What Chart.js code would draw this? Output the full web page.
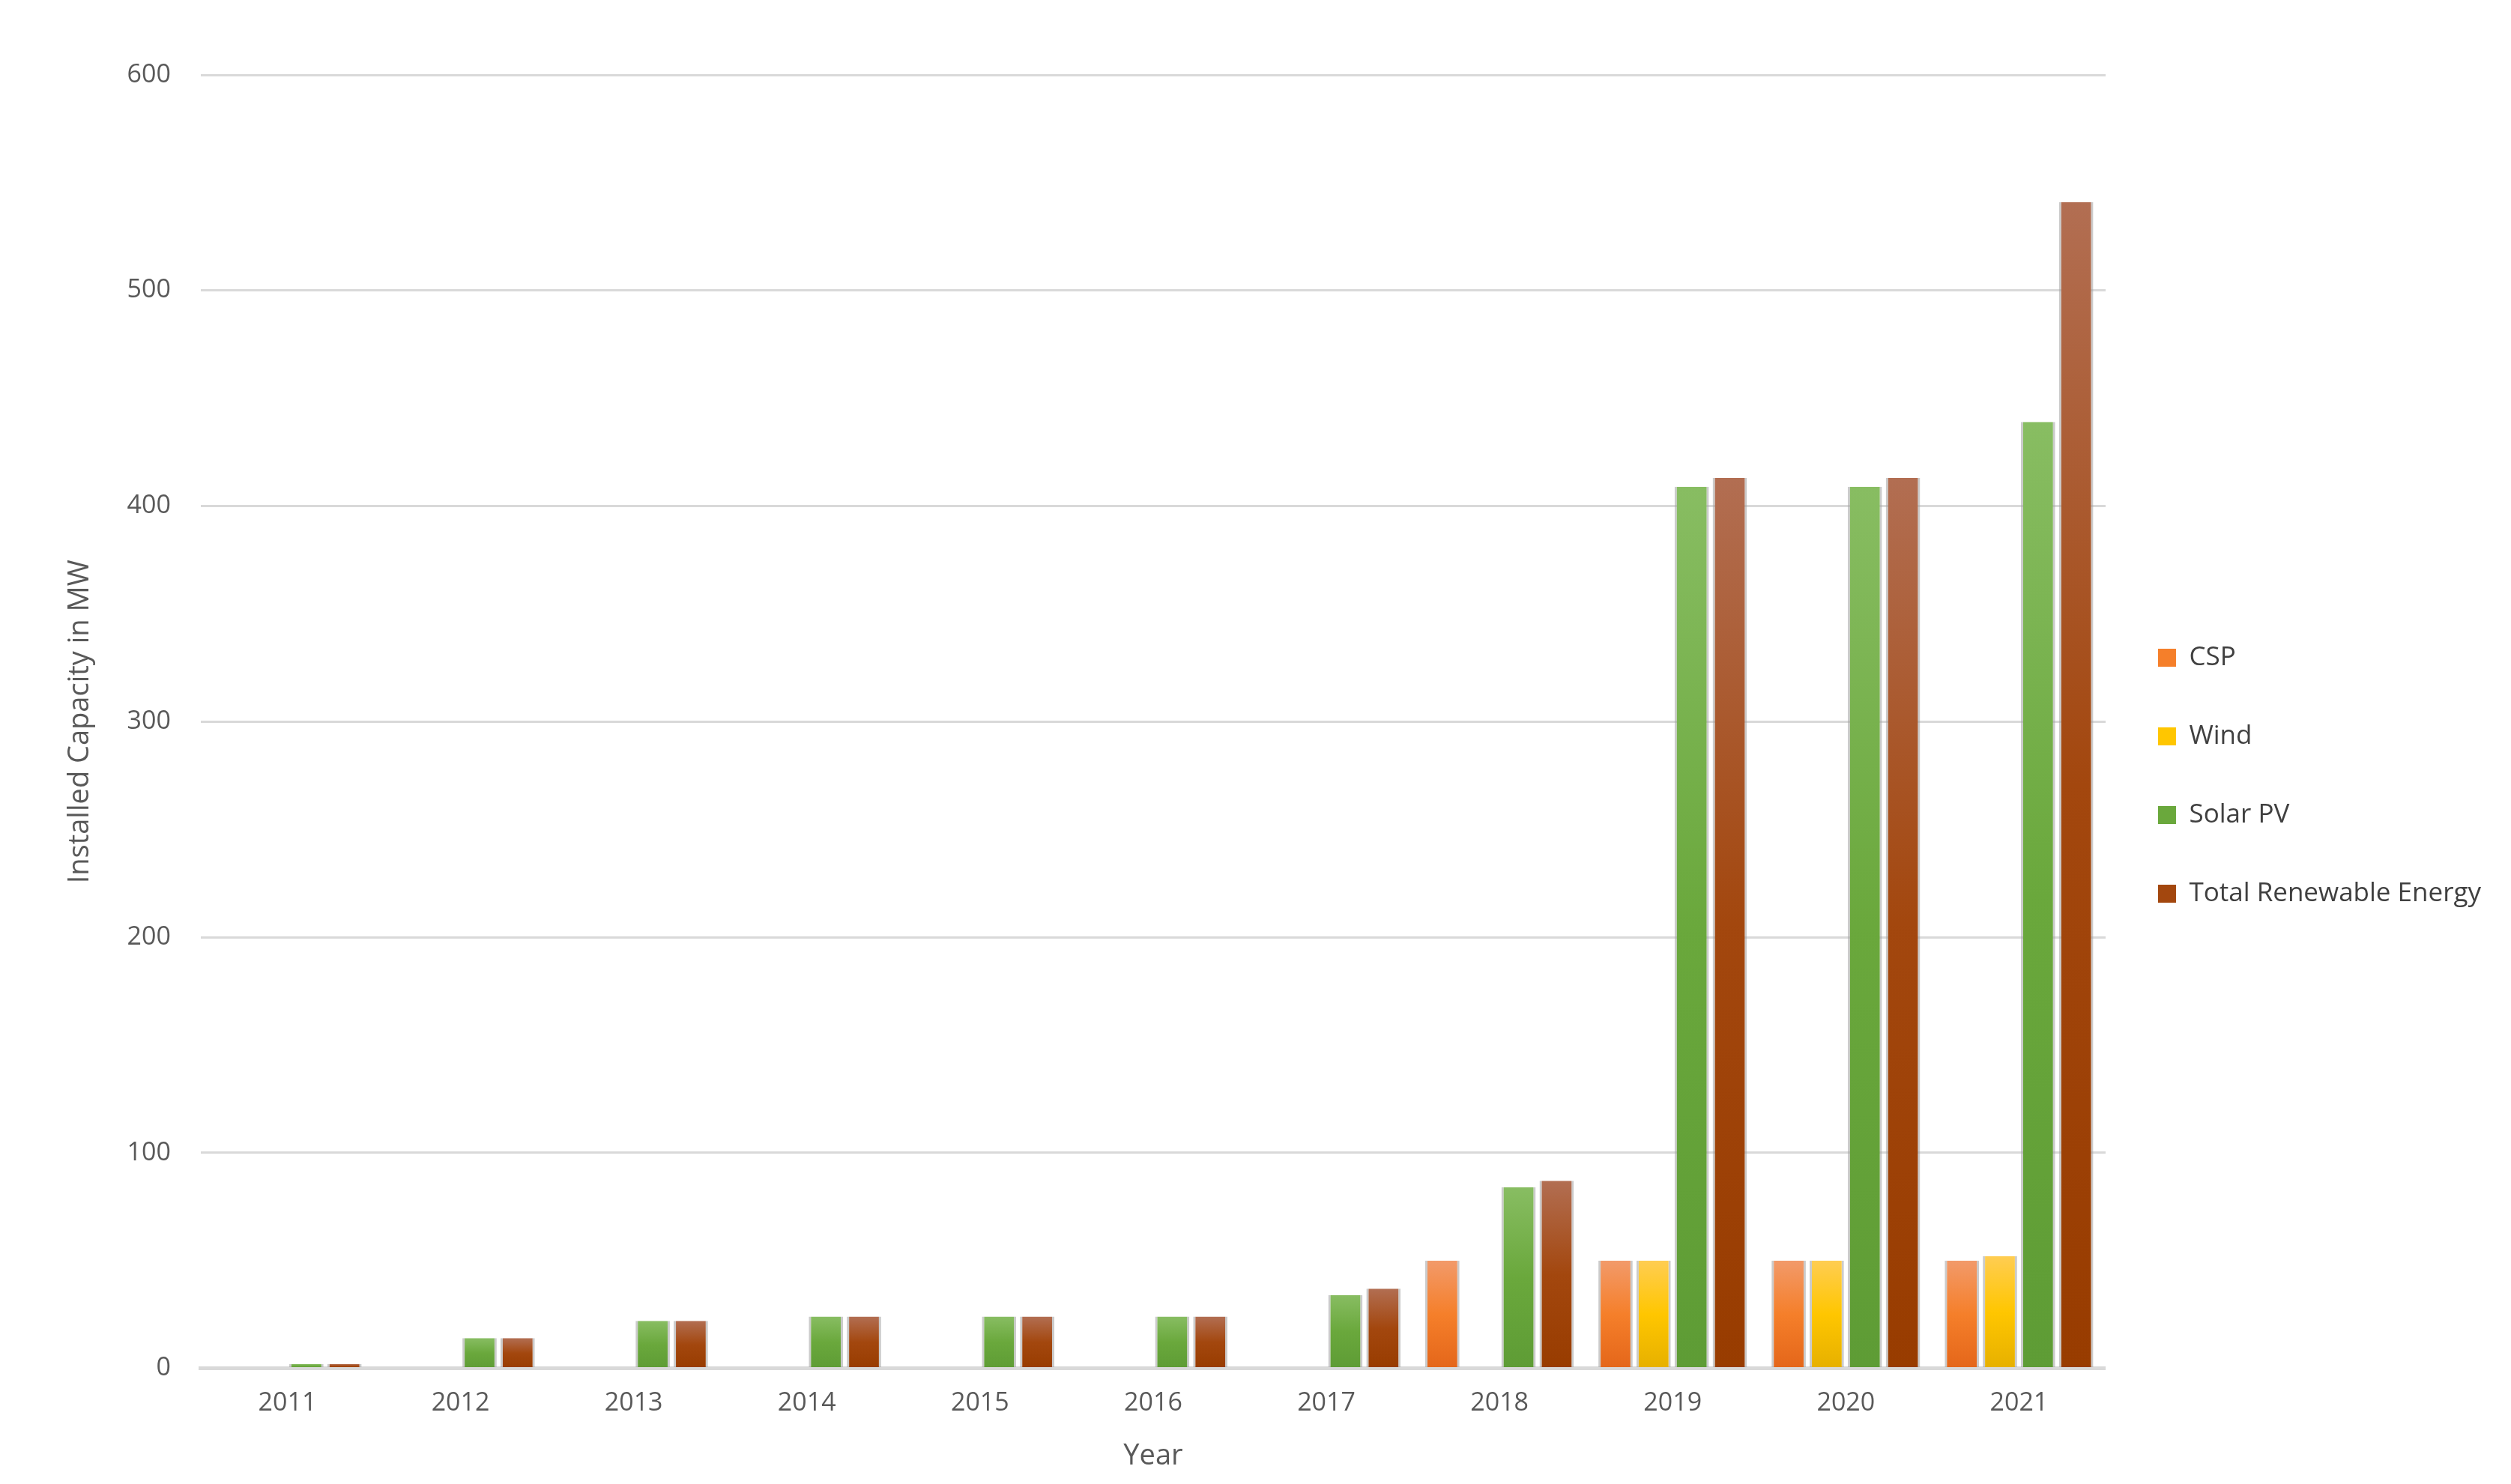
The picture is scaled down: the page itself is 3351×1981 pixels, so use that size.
<!DOCTYPE html>
<html><head><meta charset="utf-8">
<script src="https://cdn.jsdelivr.net/npm/chart.js@4"></script>
<style>html,body{margin:0;padding:0;background:#fff}#w{width:3351px;height:1981px}</style>
</head><body><div id="w"><canvas id="c"></canvas></div>
<script>
const years = ['2011','2012','2013','2014','2015','2016','2017','2018','2019','2020','2021'];
const csp = [0,0,0,0,0,0,0,50,50,50,50];
const wind = [0,0,0,0,0,0,0,0,50,50,52];
const solarPV = [2,14,22,24,24,24,34,84,409,409,439];
const totalRE = [2,14,22,24,24,24,37,87,413,413,541];
const seriesNames = ['CSP','Wind','Solar PV','Total Renewable Energy'];
const palettes = [
  ['#f29a6a','#f57f2a','#e4661a'],
  ['#ffcd52','#ffc600','#e6b000'],
  ['#88bd62','#6aa83c','#5e9c35'],
  ['#b26e52','#a3470e','#983c00']
];
function grad(i){
  return function(ctx){
    const chart = ctx.chart; const ca = chart.chartArea;
    if(!ca || ctx.type!=='data') return palettes[i][1];
    const y = chart.scales.y; const v = ctx.raw || 0;
    const top = y.getPixelForValue(v), base = y.getPixelForValue(0);
    if (base-top < 1) return palettes[i][1];
    const g = chart.ctx.createLinearGradient(0, top, 0, base);
    g.addColorStop(0, palettes[i][0]);
    g.addColorStop(0.5, palettes[i][1]);
    g.addColorStop(1, palettes[i][2]);
    return g;
  };
}
const data = [csp, wind, solarPV, totalRE];
const font = "'Open Sans', 'Liberation Sans', sans-serif";
new Chart(document.getElementById('c'), {
  type: 'bar',
  data: {
    labels: years,
    datasets: data.map((d,i)=>({
      label: seriesNames[i], data: d,
      backgroundColor: grad(i),
      borderColor: 'rgba(160,160,160,0.55)', borderWidth: {left:3,right:3,top:0,bottom:0},
      borderSkipped: 'bottom',
      categoryPercentage: 0.88, barPercentage: 0.9
    }))
  },
  options: {
    responsive: true, maintainAspectRatio: false, animation: false,
    layout: { padding: { left: 80, right: 30, top: 100, bottom: 10 } },
    plugins: {
      legend: {
        position: 'right', align: 'center',
        labels: {
          color: '#404040', font: { family: font, size: 35 },
          boxWidth: 24, boxHeight: 24, padding: 70,
          generateLabels: (chart) => seriesNames.map((n,i)=>({
            text: n, fillStyle: palettes[i][1], strokeStyle: palettes[i][1], lineWidth: 0, datasetIndex: i, fontColor:'#404040'
          }))
        }
      },
      tooltip: { enabled: false }
    },
    scales: {
      x: {
        grid: { display: false },
        border: { color: '#d9d9d9', width: 5 },
        ticks: { color: '#595959', font: { family: font, size: 34 }, padding: 18 },
        title: { display: true, text: 'Year', color: '#595959', font: { family: font, size: 38 }, padding: { top: 10 } }
      },
      y: {
        min: 0, max: 600,
        grid: { color: '#d9d9d9', lineWidth: 3, drawTicks: false },
        border: { display: false },
        ticks: { stepSize: 100, color: '#595959', font: { family: font, size: 34 }, padding: 40 },
        title: { display: true, text: 'Installed Capacity in MW', color: '#595959', font: { family: font, size: 38 }, padding: { bottom: 0 } }
      }
    }
  }
});
</script></body></html>
